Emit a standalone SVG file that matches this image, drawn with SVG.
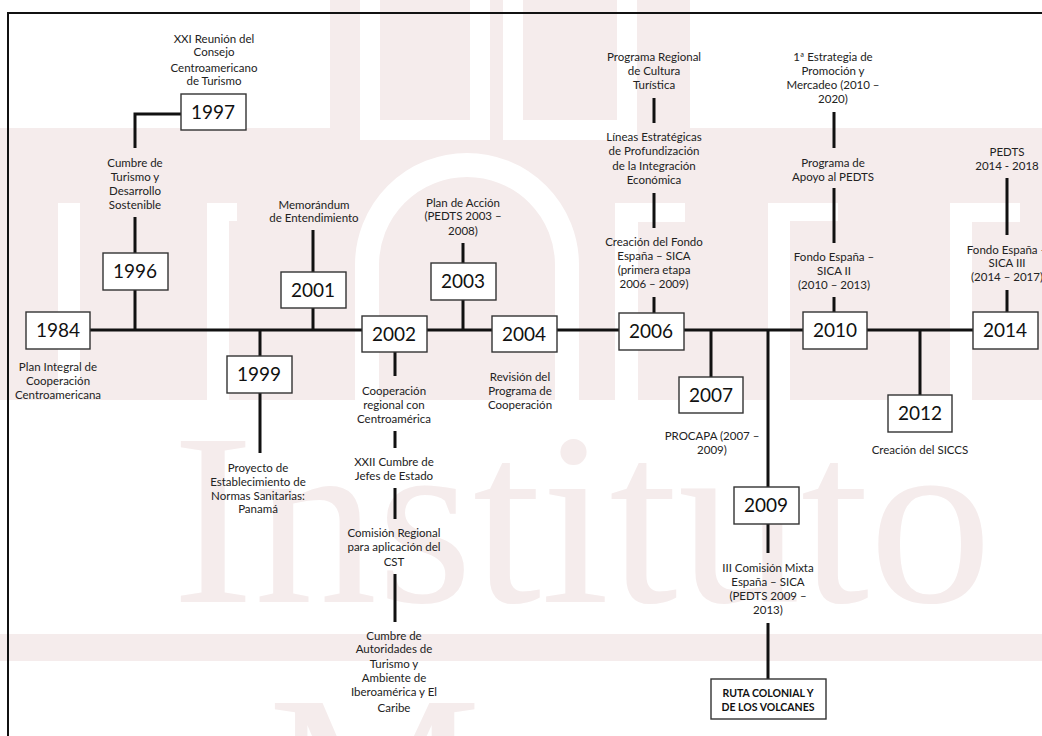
<svg xmlns="http://www.w3.org/2000/svg" width="1042" height="736" viewBox="0 0 1042 736">
<style>
.wm{fill:#f5ecec}
.wmw{fill:#ffffff}
.wt{font-family:"Liberation Serif",serif;fill:#f5ecec}
.c{stroke:#111;stroke-width:3;fill:none}
.f{stroke:#111;stroke-width:2;fill:none}
.b{fill:#fff;stroke:#333;stroke-width:1.4}
.y{font-family:Lato,"Liberation Sans",sans-serif;font-size:19px;fill:#111;text-anchor:middle}
.t{font-family:Lato,"Liberation Sans",sans-serif;font-size:11.5px;fill:#222;text-anchor:middle}
.r{font-family:Lato,"Liberation Sans",sans-serif;font-size:10.5px;font-weight:bold;fill:#111;text-anchor:middle}
</style>
<rect width="1042" height="736" fill="#fff"/>
<g id="watermark">
<rect class="wm" x="0" y="128" width="1042" height="272"/>
<rect class="wm" x="330" y="0" width="360" height="128"/>
<path d="M370 0 V130 H480 V0 M513 0 V130 H627 V0" stroke="#fff" stroke-width="20" fill="none"/>
<path d="M367 400 V265 A100 100 0 0 1 567 265 V400" stroke="#fff" stroke-width="24" fill="none"/>
<rect class="wmw" x="58" y="203" width="22" height="197"/>
<rect class="wmw" x="207" y="203" width="22" height="197"/>
<rect class="wmw" x="207" y="203" width="30" height="18"/>
<rect class="wmw" x="615" y="203" width="23" height="197"/>
<rect class="wmw" x="615" y="203" width="70" height="19"/>
<rect class="wmw" x="768" y="203" width="22" height="197"/>
<rect class="wmw" x="768" y="203" width="70" height="18"/>
<rect class="wmw" x="950" y="203" width="22" height="197"/>
<rect class="wmw" x="950" y="203" width="70" height="19"/>
<rect class="wm" x="0" y="634" width="1042" height="27"/>
<text class="wt" x="172" y="602" font-size="246">Instituto</text>
<text class="wt" x="268" y="860" font-size="240">M</text>
</g>
<g id="frame">
<path class="f" d="M8 736 V13 H1042"/>
</g>
<g id="connectors">
<path class="c" d="M90 330 H973"/>
<path class="c" d="M135 290 V330 M135 217 V253"/>
<path class="c" d="M181 114 H135 V148"/>
<path class="c" d="M260 330 V356 M260 393 V453"/>
<path class="c" d="M313 308 V330 M313 230 V272"/>
<path class="c" d="M395 352 V376 M395 431 V448 M395 488 V519 M395 574 V622"/>
<path class="c" d="M463 300 V330 M463 243 V263"/>
<path class="c" d="M654 297 V313 M654 193 V228 M654 98 V123"/>
<path class="c" d="M711 330 V377"/>
<path class="c" d="M768 330 V487 M768 524 V553 M768 623 V679"/>
<path class="c" d="M834 297 V312 M834 188 V243 M834 112 V148"/>
<path class="c" d="M920 330 V395"/>
<path class="c" d="M1007 290 V312 M1007 178 V235"/>
</g>
<g id="n1984"><rect class="b" x="26" y="312" width="64" height="37"/><text class="y" x="58" y="337">1984</text>
<text class="t"><tspan x="58" y="371">Plan Integral de</tspan><tspan x="58" y="385">Cooperación</tspan><tspan x="58" y="399">Centroamericana</tspan></text></g>
<g id="n1996"><rect class="b" x="103" y="253" width="65" height="37"/><text class="y" x="135" y="278">1996</text>
<text class="t"><tspan x="135" y="167">Cumbre de</tspan><tspan x="135" y="181">Turismo y</tspan><tspan x="135" y="195">Desarrollo</tspan><tspan x="135" y="209">Sostenible</tspan></text></g>
<g id="n1997"><rect class="b" x="181" y="94" width="65" height="36"/><text class="y" x="213" y="119">1997</text>
<text class="t"><tspan x="214" y="43">XXI Reunión del</tspan><tspan x="214" y="56">Consejo</tspan><tspan x="214" y="72">Centroamericano</tspan><tspan x="214" y="85">de Turismo</tspan></text></g>
<g id="n1999"><rect class="b" x="227" y="356" width="65" height="37"/><text class="y" x="259" y="381">1999</text>
<text class="t"><tspan x="258" y="472">Proyecto de</tspan><tspan x="258" y="486">Establecimiento de</tspan><tspan x="258" y="500">Normas Sanitarias:</tspan><tspan x="258" y="513">Panamá</tspan></text></g>
<g id="n2001"><rect class="b" x="281" y="272" width="65" height="36"/><text class="y" x="313" y="297">2001</text>
<text class="t"><tspan x="314" y="209">Memorándum</tspan><tspan x="314" y="222">de Entendimiento</tspan></text></g>
<g id="n2002"><rect class="b" x="362" y="316" width="65" height="36"/><text class="y" x="394" y="341">2002</text>
<text class="t"><tspan x="394" y="395">Cooperación</tspan><tspan x="394" y="409">regional con</tspan><tspan x="394" y="423">Centroamérica</tspan></text>
<text class="t"><tspan x="394" y="466">XXII Cumbre de</tspan><tspan x="394" y="480">Jefes de Estado</tspan></text>
<text class="t"><tspan x="394" y="537">Comisión Regional</tspan><tspan x="394" y="551">para aplicación del</tspan><tspan x="394" y="566">CST</tspan></text>
<text class="t"><tspan x="394" y="640">Cumbre de</tspan><tspan x="394" y="653">Autoridades de</tspan><tspan x="394" y="668">Turismo y</tspan><tspan x="394" y="682">Ambiente de</tspan><tspan x="394" y="696">Iberoamérica y El</tspan><tspan x="394" y="712">Caribe</tspan></text></g>
<g id="n2003"><rect class="b" x="431" y="263" width="65" height="37"/><text class="y" x="463" y="288">2003</text>
<text class="t"><tspan x="463" y="207">Plan de Acción</tspan><tspan x="463" y="220">(PEDTS 2003 –</tspan><tspan x="463" y="235">2008)</tspan></text></g>
<g id="n2004"><rect class="b" x="492" y="316" width="65" height="36"/><text class="y" x="524" y="341">2004</text>
<text class="t"><tspan x="520" y="381">Revisión del</tspan><tspan x="520" y="395">Programa de</tspan><tspan x="520" y="409">Cooperación</tspan></text></g>
<g id="n2006"><rect class="b" x="619" y="313" width="65" height="37"/><text class="y" x="651" y="338">2006</text>
<text class="t"><tspan x="654" y="61">Programa Regional</tspan><tspan x="654" y="75">de Cultura</tspan><tspan x="654" y="89">Turística</tspan></text>
<text class="t"><tspan x="654" y="141">Líneas Estratégicas</tspan><tspan x="654" y="155">de Profundización</tspan><tspan x="654" y="170">de la Integración</tspan><tspan x="654" y="184">Económica</tspan></text>
<text class="t"><tspan x="654" y="246">Creación del Fondo</tspan><tspan x="654" y="260">España – SICA</tspan><tspan x="654" y="274">(primera etapa</tspan><tspan x="654" y="288">2006 – 2009)</tspan></text></g>
<g id="n2007"><rect class="b" x="679" y="377" width="64" height="36"/><text class="y" x="711" y="402">2007</text>
<text class="t"><tspan x="712" y="440">PROCAPA (2007 –</tspan><tspan x="712" y="454">2009)</tspan></text></g>
<g id="n2009"><rect class="b" x="734" y="487" width="65" height="37"/><text class="y" x="766" y="512">2009</text>
<text class="t"><tspan x="768" y="572">III Comisión Mixta</tspan><tspan x="768" y="586">España – SICA</tspan><tspan x="768" y="600">(PEDTS 2009 –</tspan><tspan x="768" y="614">2013)</tspan></text></g>
<g id="ruta"><rect class="b" x="711" y="679" width="115" height="40"/>
<text class="r"><tspan x="768" y="697">RUTA COLONIAL Y</tspan><tspan x="768" y="711">DE LOS VOLCANES</tspan></text></g>
<g id="n2010"><rect class="b" x="803" y="312" width="64" height="37"/><text class="y" x="835" y="337">2010</text>
<text class="t"><tspan x="833" y="61">1ª Estrategia de</tspan><tspan x="833" y="75">Promoción y</tspan><tspan x="833" y="89">Mercadeo (2010 –</tspan><tspan x="833" y="103">2020)</tspan></text>
<text class="t"><tspan x="833" y="167">Programa de</tspan><tspan x="833" y="181">Apoyo al PEDTS</tspan></text>
<text class="t"><tspan x="834" y="261">Fondo España –</tspan><tspan x="834" y="275">SICA II</tspan><tspan x="834" y="289">(2010 – 2013)</tspan></text></g>
<g id="n2012"><rect class="b" x="888" y="395" width="64" height="37"/><text class="y" x="920" y="420">2012</text>
<text class="t"><tspan x="920" y="454">Creación del SICCS</tspan></text></g>
<g id="n2014"><rect class="b" x="973" y="312" width="65" height="37"/><text class="y" x="1005" y="337">2014</text>
<text class="t"><tspan x="1007" y="156">PEDTS</tspan><tspan x="1007" y="170">2014 - 2018</tspan></text>
<text class="t"><tspan x="1007" y="254">Fondo España –</tspan><tspan x="1007" y="267">SICA III</tspan><tspan x="1007" y="281">(2014 – 2017)</tspan></text></g>
</svg>
